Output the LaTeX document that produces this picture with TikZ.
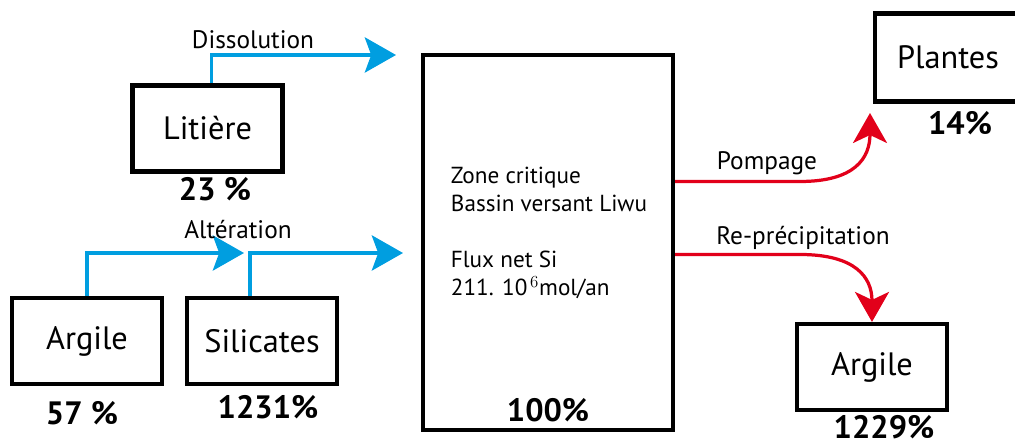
\documentclass[tikz,border=0pt]{standalone}
\usepackage{fontspec}
\setmainfont{PT Sans}
\usetikzlibrary{arrows.meta,calc}
\definecolor{fluxblue}{RGB}{0,158,224}
\definecolor{fluxred}{RGB}{226,0,26}
\begin{document}
\begin{tikzpicture}[x=0.025cm,y=0.025cm,
  box/.style={draw, line width=2.9pt, inner sep=0pt, minimum width=3.75cm,
    minimum height=2.15cm, font=\fontsize{23}{27}\selectfont},
  pct/.style={font=\fontsize{23}{27}\selectfont\bfseries},
  flux/.style={font=\fontsize{18}{22}\selectfont},
  blueflow/.style={fluxblue, line width=2.5pt,
    -{Stealth[length=0.78cm,width=0.88cm,inset=0.16cm]}},
  redflow/.style={fluxred, line width=2.3pt,
    -{Stealth[length=0.75cm,width=0.85cm,inset=0.2cm]}}]
\useasboundingbox (0,0) rectangle (1015,444);
% reservoirs
\node[box] (litiere) at (207.5,315.5) {Liti\`ere};
\node[box] (argile) at (87,103) {Argile};
\node[box] (silicates) at (262,103) {Silicates};
\node[box, minimum width=6.25cm, minimum height=9.375cm] (zone) at (548,201.5) {};
\node[box, minimum width=3.65cm, minimum height=2.2cm] (plantes) at (948,386.5) {Plantes};
\node[box] (argiler) at (872,77) {Argile};
% percentages
\node[pct] (plit) at (215,255) {23 \%};
\node[pct] (parg) at (82,31) {57 \%};
\node[pct] (psil) at (268,37) {1231\%};
\node[pct] (pzone) at (548,34) {100\%};
\node[pct] (pplan) at (960,321) {14\%};
\node[pct] (pargr) at (884,17) {1229\%};
% text of the critical zone
\node[align=left, font=\fontsize{16.5}{20}\selectfont] (zonetxt) at (549,211)
{Zone critique\\Bassin versant Liwu\\[20pt]Flux net Si\\211. 10$^{\,6}$mol/an};
% inputs
\coordinate (dissol) at (396,389);
\coordinate (alter) at (244,191);
\coordinate (silin) at (403,191);
\draw[blueflow] ($(litiere.north)+(4,0)$) |- (dissol);
\draw[blueflow] (argile.north) |- (alter);
\draw[blueflow] ($(silicates.north)+(-12,0)$) |- (silin);
\node[flux] (ldissol) at (253,404) {Dissolution};
\node[flux] (lalter) at (238,214) {Alt\'eration};
% outputs
\coordinate (pomptip) at (870,331);
\draw[redflow] ($(zone.east)+(0,61)$) -- ++(125,0)
  .. controls +(55,0) and +(0,-45) .. (pomptip);
\draw[redflow] ($(zone.east)+(0,-12)$) -- ++(125,0)
  .. controls +(55,0) and +(0,45) .. (argiler.north);
\node[flux] (lpomp) at (767,281) {Pompage};
\node[flux] (lrepre) at (803,206) {Re-pr\'ecipitation};
\end{tikzpicture}
\end{document}
